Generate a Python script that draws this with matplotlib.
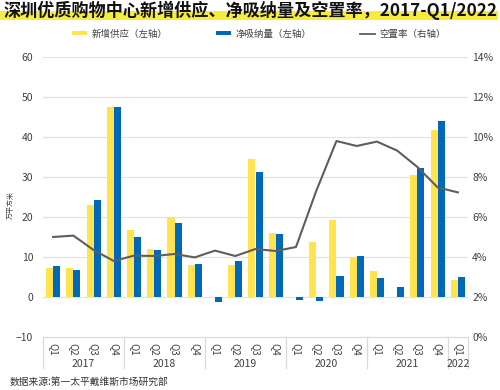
import matplotlib
matplotlib.use("Agg")
import matplotlib.pyplot as plt
import numpy as np
from matplotlib.patches import Rectangle, Patch
from matplotlib.lines import Line2D
from matplotlib.ticker import FuncFormatter, MultipleLocator

plt.rcParams['font.family'] = ['Noto Sans CJK SC', 'DejaVu Sans']
plt.rcParams['axes.unicode_minus'] = True

quarters = ["Q1", "Q2", "Q3", "Q4"] * 5 + ["Q1"]
years = ["2017", "2018", "2019", "2020", "2021", "2022"]
year_counts = [4, 4, 4, 4, 4, 1]
new_supply = [7.2, 7.2, 23.1, 47.4, 16.7, 12.1, 20.0, 7.9, 0.0, 7.9, 34.6, 16.1,
              0.0, 13.8, 19.2, 10.0, 6.5, 0.0, 30.4, 41.7, 4.2]
net_absorption = [7.8, 6.7, 24.2, 47.4, 15.0, 11.7, 18.6, 8.3, -1.3, 9.0, 31.3, 15.8,
                  -0.8, -0.9, 5.2, 10.2, 4.8, 2.5, 32.3, 44.1, 5.0]
vacancy = [5.0, 5.07, 4.35, 3.8, 4.07, 4.05, 4.15, 3.98, 4.32, 4.05, 4.4, 4.3,
           4.5, 7.3, 9.8, 9.55, 9.77, 9.32, 8.5, 7.48, 7.23]

legend_labels = ["新增供应（左轴）", "净吸纳量（左轴）", "空置率（右轴）"]
title = "深圳优质购物中心新增供应、净吸纳量及空置率，2017-Q1/2022"
ylabel = "万平方米"
source = "数据来源:第一太平戴维斯市场研究部"

YELLOW = "#FFE34F"
BLUE = "#0068B8"
LINEC = "#5E5E5E"
GRID = "#E3E3E3"
TXT = "#404040"

W, H = 500, 390
fig = plt.figure(figsize=(W / 100, H / 100), dpi=100)
fig.patch.set_facecolor("white")
ax = fig.add_axes([43 / W, 1 - 337 / H, (468 - 43) / W, 280 / H])
ax2 = ax.twinx()

x = np.arange(len(quarters))
bw = 0.35
ax.bar(x - bw / 2, new_supply, bw, color=YELLOW, zorder=3, linewidth=0)
ax.bar(x + bw / 2, net_absorption, bw, color=BLUE, zorder=3, linewidth=0)

ax.set_xlim(-0.5, len(quarters) - 0.5)
ax.set_ylim(-10, 60)
ax.yaxis.set_major_locator(MultipleLocator(10))
ax.grid(axis="y", color=GRID, linewidth=0.9, zorder=0)
ax.set_axisbelow(True)
for s in ["top", "right", "left"]:
    ax.spines[s].set_visible(False)
ax.spines["bottom"].set_color("#D9D9D9")
ax.tick_params(axis="y", length=0, pad=7, labelsize=7.5, colors=TXT)
ax.set_xticks(x)
ax.set_xticklabels(quarters, rotation=270, fontsize=7, color=TXT)
ax.tick_params(axis="x", length=0, pad=4)

ax2.plot(x, vacancy, color=LINEC, linewidth=1.5, zorder=4)
ax2.set_ylim(0, 14)
ax2.yaxis.set_major_locator(MultipleLocator(2))
ax2.yaxis.set_major_formatter(FuncFormatter(lambda v, p: f"{v:.0f}%"))
ax2.tick_params(axis="y", length=0, pad=3, labelsize=7.5, colors=TXT)
for s in ["top", "right", "left", "bottom"]:
    ax2.spines[s].set_visible(False)

# year separators and labels
bounds = np.cumsum([0] + year_counts) - 0.5
for b in bounds:
    ax.axvline(b, ymin=-0.112, ymax=0, color="#D9D9D9", linewidth=0.9, clip_on=False)
trans = ax.get_xaxis_transform()
for i, yr in enumerate(years):
    cx = (bounds[i] + bounds[i + 1]) / 2
    ax.text(cx, -0.095, yr, transform=trans, ha="center", va="center",
            fontsize=7.5, color=TXT)

# title with highlight
fig.patches.append(Rectangle((0 / W, 1 - 19.5 / H), 498 / W, 8 / H,
                             transform=fig.transFigure, facecolor="#F7EC3A",
                             edgecolor="none", zorder=0))
fig.text(250 / W, 1 - 10.5 / H, title, ha="center", va="center",
         fontsize=12.3, fontweight="bold", color="#111111", zorder=2)

# legend
handles = [Patch(facecolor=YELLOW, edgecolor="none"),
           Patch(facecolor=BLUE, edgecolor="none"),
           Line2D([0], [0], color=LINEC, linewidth=1.3)]
fig.legend(handles, legend_labels, loc="center", bbox_to_anchor=(259 / W, 1 - 34 / H),
           ncol=3, frameon=False, fontsize=6.8, handlelength=1.55, handleheight=0.35,
           handletextpad=0.45, columnspacing=5.2, labelcolor=TXT)

fig.text(11 / W, 1 - 205 / H, ylabel, rotation=90, ha="center", va="center",
         fontsize=5, color=TXT)
fig.text(10 / W, 1 - 382 / H, source, ha="left", va="center", fontsize=7,
         color="#333333", style="italic")

fig.savefig("out.png", dpi=100)
